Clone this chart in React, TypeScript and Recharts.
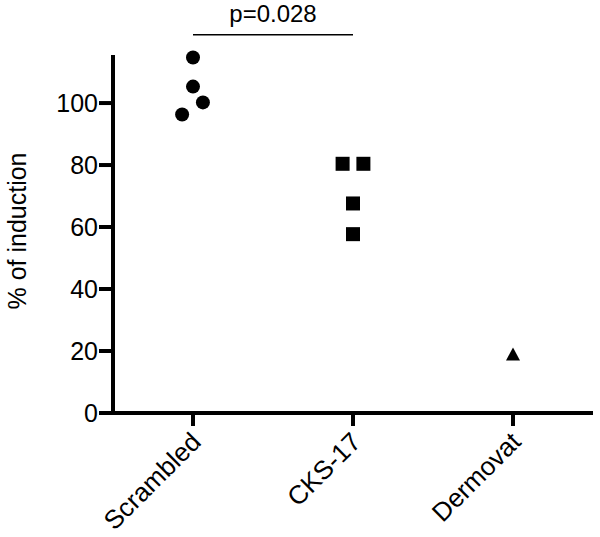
import React from 'react';
import { ScatterChart, Scatter, XAxis, YAxis, ReferenceLine } from 'recharts';

const categories = ['Scrambled', 'CKS-17', 'Dermovat'];
const yTicks = [0, 20, 40, 60, 80, 100];

const scrambledValues = [114.7, 105.3, 100.2, 96.3];
const scrambledJitter = [0, 0, 0.062, -0.068];

const cksValues = [80.4, 80.4, 67.6, 57.7];
const cksJitter = [-0.065, 0.065, 0, 0];

const dermovatValues = [18.7];
const dermovatJitter = [0];

const pValueLabel = 'p=0.028';
const pValueBarY = 122;

const build = (cat: number, values: number[], jitter: number[]) =>
  values.map((v, i) => ({ x: cat + jitter[i], y: v }));

const scrambledData = build(1, scrambledValues, scrambledJitter);
const cksData = build(2, cksValues, cksJitter);
const dermovatData = build(3, dermovatValues, dermovatJitter);

const FONT = '"Liberation Sans", Arial, Helvetica, sans-serif';

const CircleShape = (p: any) => <circle cx={p.cx} cy={p.cy} r={7} fill="#000" />;
const SquareShape = (p: any) => <rect x={p.cx - 7} y={p.cy - 7} width={14} height={14} fill="#000" />;
const TriangleShape = (p: any) => (
  <path d={`M${p.cx},${p.cy - 7.5} L${p.cx + 7},${p.cy + 5.5} L${p.cx - 7},${p.cy + 5.5} Z`} fill="#000" />
);

const XTick = (props: any) => {
  const { x, y, payload } = props;
  const name = categories[Math.round(payload.value) - 1];
  return (
    <g transform={`translate(${x + 3},${y + 9})`}>
      <text
        x={0}
        y={0}
        dy="0.35em"
        transform="rotate(-45)"
        textAnchor="end"
        fill="#000"
        fontSize={26}
        fontFamily={FONT}
      >
        {name}
      </text>
    </g>
  );
};

const YLabel = (props: any) => {
  const vb = props.viewBox || {};
  const cy = (vb.y ?? 55) + (vb.height ?? 358) / 2 - 3;
  return (
    <text
      x={17}
      y={cy}
      dy="0.35em"
      transform={`rotate(-90, 17, ${cy})`}
      textAnchor="middle"
      fill="#000"
      fontSize={25}
      fontFamily={FONT}
    >
      % of induction
    </text>
  );
};

export default function App() {
  return (
    <div style={{ position: 'absolute', left: 0, top: 0, background: '#fff' }}>
      <ScatterChart
        width={600}
        height={537}
        margin={{ top: 55, right: 7, bottom: 0, left: 0 }}
        style={{ fontFamily: FONT }}
      >
        <XAxis
          type="number"
          dataKey="x"
          domain={[0.5, 3.5]}
          ticks={[1, 2, 3]}
          height={124}
          tickSize={13}
          tickMargin={2}
          axisLine={{ stroke: '#000', strokeWidth: 4 }}
          tickLine={{ stroke: '#000', strokeWidth: 4 }}
          tick={<XTick />}
          interval={0}
        />
        <YAxis
          type="number"
          dataKey="y"
          domain={[0, 115.5]}
          ticks={yTicks}
          width={113}
          tickSize={14}
          tickMargin={1}
          axisLine={{ stroke: '#000', strokeWidth: 4 }}
          tickLine={{ stroke: '#000', strokeWidth: 4 }}
          tick={{ fill: '#000', fontSize: 25, fontFamily: FONT }}
          interval={0}
          label={<YLabel />}
        />
        <ReferenceLine
          segment={[
            { x: 1, y: pValueBarY },
            { x: 2, y: pValueBarY },
          ]}
          ifOverflow="visible"
          stroke="#000"
          strokeWidth={1.5}
          label={{
            value: pValueLabel,
            position: 'top',
            offset: 13,
            fill: '#000',
            fontSize: 24,
            fontFamily: FONT,
          }}
        />
        <Scatter data={scrambledData} shape={<CircleShape />} isAnimationActive={false} />
        <Scatter data={cksData} shape={<SquareShape />} isAnimationActive={false} />
        <Scatter data={dermovatData} shape={<TriangleShape />} isAnimationActive={false} />
      </ScatterChart>
    </div>
  );
}
